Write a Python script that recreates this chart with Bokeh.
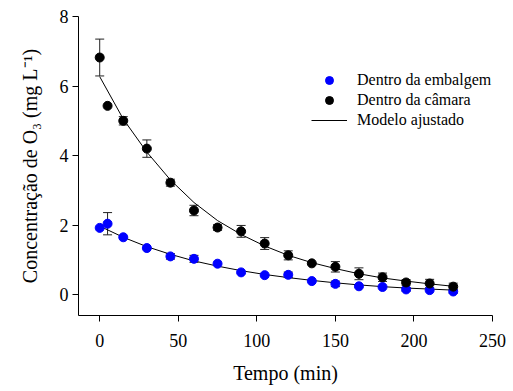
from bokeh.plotting import figure
from bokeh.models import ColumnDataSource, Whisker, Legend, LegendItem, FixedTicker
from bokeh.embed import file_html
from bokeh.resources import INLINE

# Data
tempo = [0, 5, 15, 30, 45, 60, 75, 90, 105, 120, 135, 150, 165, 180, 195, 210, 225]
camara = [6.82, 5.43, 5.0, 4.2, 3.22, 2.42, 1.93, 1.82, 1.47, 1.13, 0.9, 0.8, 0.6, 0.5, 0.35, 0.32, 0.23]
camara_err = [0.53, 0.0, 0.12, 0.25, 0.1, 0.15, 0.08, 0.17, 0.17, 0.13, 0.0, 0.15, 0.17, 0.12, 0.08, 0.12, 0.1]
embalagem = [1.92, 2.04, 1.65, 1.34, 1.1, 1.03, 0.89, 0.64, 0.56, 0.57, 0.39, 0.31, 0.24, 0.22, 0.15, 0.13, 0.09]
embalagem_err = [0.0, 0.32, 0.0, 0.0, 0.08, 0.1, 0.0, 0.0, 0.0, 0.08, 0.0, 0.08, 0.0, 0.0, 0.05, 0.0, 0.05]

tempo_modelo = [0, 15, 30, 45, 60, 75, 90, 105, 120, 135, 150, 165, 180, 195, 210, 225]
camara_modelo = [6.27, 5.05, 4.1, 3.3, 2.65, 2.13, 1.73, 1.4, 1.13, 0.92, 0.75, 0.6, 0.48, 0.39, 0.31, 0.24]
embalagem_modelo = [1.97, 1.65, 1.38, 1.16, 0.97, 0.82, 0.69, 0.58, 0.49, 0.41, 0.34, 0.28, 0.23, 0.19, 0.16, 0.13]

x_ticks = [0, 50, 100, 150, 200, 250]
y_ticks = [0, 2, 4, 6, 8]

FONT = "Liberation Serif"
BLUE = "#0000ff"

p = figure(width=513, height=391, output_backend="svg", toolbar_location=None,
           x_range=(-13.5, 250), y_range=(-0.6, 8.0),
           min_border_left=78, min_border_right=21, min_border_top=16, min_border_bottom=76)
p.outline_line_color = None
p.grid.visible = False
p.background_fill_color = "white"
p.border_fill_color = "white"

for ax in (p.xaxis[0], p.yaxis[0]):
    ax.axis_line_color = "black"
    ax.major_tick_line_color = "black"
    ax.minor_tick_line_color = None
    ax.major_tick_in = 0
    ax.major_tick_out = 6
    ax.major_label_text_font = FONT
    ax.major_label_text_font_size = "18px"
    ax.major_label_text_color = "black"
    ax.axis_label_text_font = FONT
    ax.axis_label_text_font_size = "20px"
    ax.axis_label_text_font_style = "normal"
    ax.axis_label_text_color = "black"

p.xaxis.ticker = FixedTicker(ticks=x_ticks)
p.yaxis.ticker = FixedTicker(ticks=y_ticks)
p.xaxis.axis_label = "Tempo (min)"
p.yaxis.axis_label = "Concentração de O\u2083 (mg L\u207b\u00b9)"
p.xaxis.major_label_standoff = 12
p.xaxis.axis_label_standoff = 12
p.yaxis.major_label_standoff = 4
p.yaxis.axis_label_standoff = 16

# model curves
l1 = p.line(tempo_modelo, camara_modelo, line_color="black", line_width=1)
p.line(tempo_modelo, embalagem_modelo, line_color="black", line_width=1)

# error bars
def add_err(vals, errs):
    xs = [t for t, e in zip(tempo, errs) if e > 0]
    lo = [v - e for v, e in zip(vals, errs) if e > 0]
    hi = [v + e for v, e in zip(vals, errs) if e > 0]
    src = ColumnDataSource(dict(x=xs, lo=lo, hi=hi))
    w = Whisker(base="x", lower="lo", upper="hi", source=src, line_color="#222222", line_width=1)
    w.upper_head.size = 9
    w.lower_head.size = 9
    w.upper_head.line_color = "#222222"
    w.lower_head.line_color = "#222222"
    p.add_layout(w)

add_err(camara, camara_err)
add_err(embalagem, embalagem_err)

r_emb = p.scatter(tempo, embalagem, size=9, fill_color=BLUE, line_color=BLUE)
r_cam = p.scatter(tempo, camara, size=9, fill_color="black", line_color="black")

legend = Legend(items=[
    LegendItem(label="Dentro da embalgem", renderers=[r_emb]),
    LegendItem(label="Dentro da câmara", renderers=[r_cam]),
    LegendItem(label="Modelo ajustado", renderers=[l1]),
], location=(233, 185))
legend.border_line_color = None
legend.background_fill_alpha = 0
legend.padding = 0
legend.margin = 0
legend.spacing = 0
legend.glyph_width = 36
legend.glyph_height = 20
legend.label_height = 20
legend.label_standoff = 10
legend.label_text_font = FONT
legend.label_text_font_size = "16px"
legend.label_text_color = "black"
p.add_layout(legend)

open("out.html", "w").write(file_html(p, INLINE))
